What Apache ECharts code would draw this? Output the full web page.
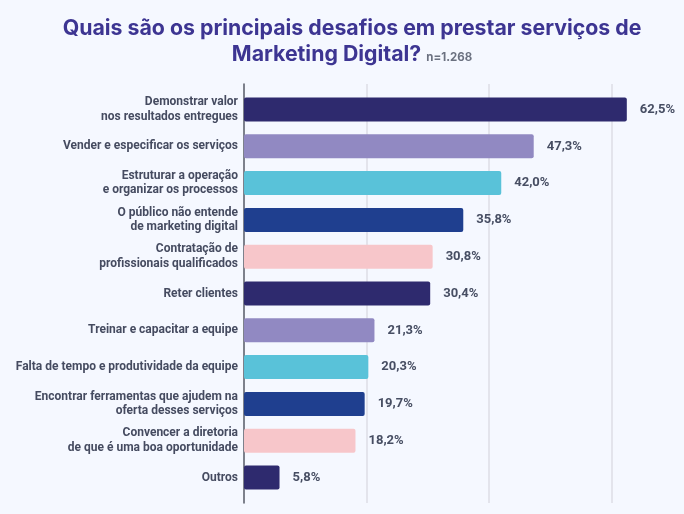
<!DOCTYPE html>
<html>
<head>
<meta charset="utf-8">
<script src="https://cdn.jsdelivr.net/npm/echarts@6/dist/echarts.min.js"></script>
<style>
html,body{margin:0;padding:0;background:#f5f8ff;}
#chart{width:684px;height:514px;}
</style>
</head>
<body>
<div id="chart"></div>
<script>
var categories = [
  "Demonstrar valor\nnos resultados entregues",
  "Vender e especificar os serviços",
  "Estruturar a operação\ne organizar os processos",
  "O público não entende\nde marketing digital",
  "Contratação de\nprofissionais qualificados",
  "Reter clientes",
  "Treinar e capacitar a equipe",
  "Falta de tempo e produtividade da equipe",
  "Encontrar ferramentas que ajudem na\noferta desses serviços",
  "Convencer a diretoria\nde que é uma boa oportunidade",
  "Outros"
];
var values = [62.5, 47.3, 42.0, 35.8, 30.8, 30.4, 21.3, 20.3, 19.7, 18.2, 5.8];
var palette = ["#2e2a6e", "#9189c2", "#59c2d9", "#1f3f8f", "#f7c6ca"];
var xTicks = [0, 20, 40, 60];

var chart = echarts.init(document.getElementById('chart'));
var TFONT = 'Inter, Roboto, sans-serif';
var FONT = 'Roboto, Inter, sans-serif';
chart.setOption({
  backgroundColor: '#f5f8ff',
  animation: false,
  title: {
    left: 347,
    top: 11,
    textAlign: 'center',
    text: '{t|Quais são os principais desafios em prestar serviços de}\n{t|Marketing Digital?} {n|n=1.268}',
    textStyle: {
      rich: {
        t: {fontFamily: TFONT, fontSize: 21.3, fontWeight: 'bold', color: '#3d3592', lineHeight: 26},
        n: {fontFamily: TFONT, fontSize: 11.5, fontWeight: 'bold', color: '#6b7180', padding: [6, 0, 0, 0]}
      }
    }
  },
  grid: [
    {left: 244, right: 11.25, top: 84, bottom: 11, outerBoundsMode: 'none', containLabel: false},
    {left: 244, right: 11.25, top: 91.1, bottom: 18.1, outerBoundsMode: 'none', containLabel: false}
  ],
  xAxis: [
    {
      gridIndex: 0, type: 'value', min: 0, max: 70, interval: 20,
      axisLine: {show: false}, axisTick: {show: false}, axisLabel: {show: false},
      splitLine: {show: true, showMinLine: false, showMaxLine: false, lineStyle: {color: '#dcdee6', width: 1.5}}
    },
    {
      gridIndex: 1, type: 'value', min: 0, max: 70, interval: 20,
      axisLine: {show: false}, axisTick: {show: false}, axisLabel: {show: false},
      splitLine: {show: false}
    }
  ],
  yAxis: [
    {
      gridIndex: 0, type: 'value', min: 0, max: 1,
      axisLine: {show: true, lineStyle: {color: '#555a66', width: 1.5}},
      axisTick: {show: false}, axisLabel: {show: false}, splitLine: {show: false}
    },
    {
      gridIndex: 1, type: 'category', data: categories, inverse: true,
      axisLine: {show: false}, axisTick: {show: false}, splitLine: {show: false},
      axisLabel: {
        margin: 6, fontFamily: FONT, fontSize: 12, fontWeight: 'bold',
        color: '#454b60', lineHeight: 14.5, align: 'right'
      }
    }
  ],
  series: [{
    type: 'bar',
    xAxisIndex: 1, yAxisIndex: 1,
    data: values.map(function (v, i) {
      return {value: v, itemStyle: {color: palette[i % palette.length]}};
    }),
    barWidth: 24,
    itemStyle: {borderRadius: 2},
    label: {
      show: true, position: 'right', distance: 13,
      fontFamily: FONT, fontSize: 13, fontWeight: 'bold', color: '#474e63',
      formatter: function (p) { return p.value.toFixed(1).replace('.', ',') + '%'; }
    }
  }]
});
</script>
</body>
</html>
